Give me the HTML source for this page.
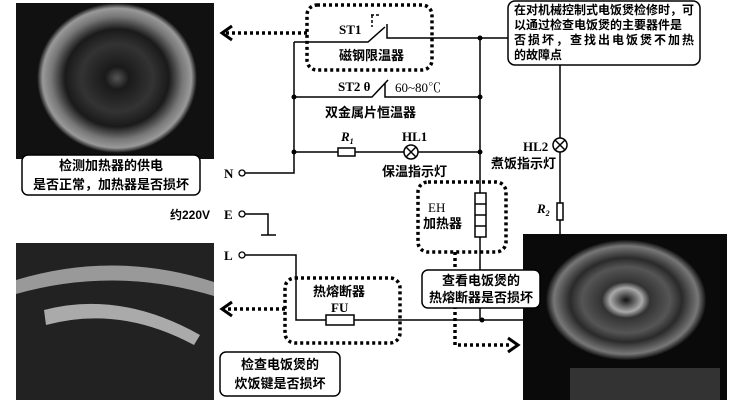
<!DOCTYPE html>
<html><head><meta charset="utf-8"><style>
html,body{margin:0;padding:0;background:#fff;}
svg{display:block;font-family:"Liberation Serif","Noto Serif CJK SC",serif;}
.cj{font-family:"Liberation Sans","Noto Sans CJK SC",sans-serif;font-weight:bold;}
</style></head><body>
<svg width="736" height="400" viewBox="0 0 736 400" xmlns="http://www.w3.org/2000/svg">
<defs>
<radialGradient id="bowl" cx="0.5" cy="0.5" r="0.5">
<stop offset="0" stop-color="#555"/><stop offset="0.15" stop-color="#1a1a1a"/><stop offset="0.45" stop-color="#333"/><stop offset="0.65" stop-color="#1a1a1a"/><stop offset="0.82" stop-color="#777"/><stop offset="0.93" stop-color="#999"/><stop offset="1" stop-color="#111"/>
</radialGradient>
<radialGradient id="plate" cx="0.5" cy="0.5" r="0.5">
<stop offset="0" stop-color="#111"/><stop offset="0.2" stop-color="#aaa"/><stop offset="0.3" stop-color="#333"/><stop offset="0.55" stop-color="#555"/><stop offset="0.7" stop-color="#2a2a2a"/><stop offset="0.9" stop-color="#777"/><stop offset="1" stop-color="#111"/>
</radialGradient>
</defs>
<rect x="16" y="3" width="198" height="156" fill="#111"/>
<ellipse cx="117" cy="78" rx="80" ry="75" fill="url(#bowl)"/>
<rect x="22" y="155" width="178" height="40" rx="6" fill="#fff" stroke="#000" stroke-width="1.5"/>
<text class="cj" font-size="13" x="111" y="170" text-anchor="middle">检测加热器的供电</text>
<text class="cj" font-size="13" x="111" y="189" text-anchor="middle">是否正常，加热器是否损坏</text>
<rect x="16" y="243" width="198" height="157" fill="#222"/>
<path d="M16 280 Q115 250 214 282 L214 296 Q115 266 16 294Z" fill="#999"/>
<path d="M44 310 Q120 290 200 335 L194 345 Q120 305 46 325Z" fill="#aaa"/>
<rect x="220" y="352" width="120" height="44" rx="6" fill="#fff" stroke="#000" stroke-width="1.5"/>
<text class="cj" font-size="13" x="280" y="369" text-anchor="middle">检查电饭煲的</text>
<text class="cj" font-size="13" x="280" y="388" text-anchor="middle">炊饭键是否损坏</text>
<rect x="523" y="234" width="204" height="166" fill="#0a0a0a"/>
<ellipse cx="626" cy="300" rx="80" ry="60" fill="url(#plate)"/>
<rect x="570" y="368" width="150" height="32" fill="#333"/>
<rect x="508" y="1" width="192" height="64" rx="7" fill="#fff" stroke="#000" stroke-width="1.5"/>
<g class="cj" font-size="12">
<text x="514" y="14">在对机械控制式电饭煲检修时，可</text>
<text x="514" y="29">以通过检查电饭煲的主要器件是</text>
<text x="514" y="44" letter-spacing="2">否损坏，查找出电饭煲不加热</text>
<text x="514" y="59">的故障点</text>
</g>
<g stroke="#000" stroke-width="1.5" fill="none">
<path d="M294 42 V173 H245"/>
<path d="M294 42 H368 L385 27 M387 24 V38 H508"/>
<path d="M294 97 H372 L388 80 M385 83 V97 H480"/>
<path d="M294 152 H338 M355 152 H404 M418 152 H480"/>
<path d="M480 38 V320"/>
<path d="M245 214 H268 V235 M261 235 H276"/>
<path d="M245 255 H296 V320 H326 M354 320 H523"/>
<path d="M560 65 V138 M560 152 V203 M560 220 V234"/>
<rect x="338" y="148" width="17" height="8" fill="#fff"/>
<circle cx="411" cy="152" r="7" fill="#fff"/>
<path d="M406 147 L416 157 M416 147 L406 157"/>
<circle cx="560" cy="145" r="7" fill="#fff"/>
<path d="M555 140 L565 150 M565 140 L555 150"/>
<rect x="557" y="203" width="6" height="17" fill="#fff"/>
<rect x="475" y="193" width="11" height="44" fill="#fff"/>
<path d="M475 204 H486 M475 215 H486 M475 226 H486"/>
<rect x="326" y="315" width="28" height="10" fill="#fff"/>
<path d="M371 15 H381 M372 15 V27" stroke-dasharray="3 2"/>
</g>
<g fill="#fff" stroke="#000" stroke-width="1.3">
<circle cx="242" cy="173" r="3"/><circle cx="242" cy="214" r="3"/><circle cx="242" cy="255" r="3"/>
</g>
<g fill="#000">
<circle cx="294" cy="97" r="2.5"/><circle cx="294" cy="152" r="2.5"/>
<circle cx="480" cy="38" r="2.5"/><circle cx="480" cy="97" r="2.5"/><circle cx="480" cy="152" r="2.5"/><circle cx="482" cy="320" r="2.5"/>
</g>
<g stroke="#000" stroke-width="3.5" fill="none" stroke-dasharray="3 3">
<rect x="307" y="5" width="125" height="65" rx="10"/>
<rect x="418" y="182" width="88" height="70" rx="10"/>
<rect x="285" y="278" width="115" height="65" rx="10"/>
<path d="M307 33 H224"/>
<path d="M285 309 H224"/>
<path d="M455 252 V345 H512"/>
</g>
<g stroke="#000" stroke-width="3" fill="none">
<path d="M232 26 L222 33 L232 40"/>
<path d="M232 302 L222 309 L232 316"/>
<path d="M508 338 L518 345 L508 352"/>
</g>
<rect x="422" y="270" width="118" height="38" rx="6" fill="#fff" stroke="#000" stroke-width="1.5"/>
<g class="cj" font-size="13" text-anchor="middle">
<text x="481" y="285">查看电饭煲的</text>
<text x="481" y="302">热熔断器是否损坏</text>
</g>
<g font-size="13" font-weight="bold">
<text x="339" y="34">ST1</text>
<text x="338" y="91">ST2 θ</text>
<text x="395" y="92" font-weight="normal">60~80℃</text>
<text x="341" y="141" font-style="italic">R<tspan font-size="8" dy="3">1</tspan></text>
<text x="402" y="141">HL1</text>
<text x="523" y="151">HL2</text>
<text x="537" y="213" font-style="italic">R<tspan font-size="8" dy="3">2</tspan></text>
<text x="428" y="212" font-weight="normal">EH</text>
<text x="331" y="312">FU</text>
<text x="224" y="178">N</text>
<text x="224" y="219">E</text>
<text x="224" y="260">L</text>
<text x="170" y="219" class="cj" font-size="12">约220V</text>
</g>
<g class="cj" font-size="13">
<text x="339" y="60">磁钢限温器</text>
<text x="325" y="117">双金属片恒温器</text>
<text x="382" y="176">保温指示灯</text>
<text x="491" y="168">煮饭指示灯</text>
<text x="423" y="228">加热器</text>
<text x="313" y="296">热熔断器</text>
</g>
</svg>
</body></html>
